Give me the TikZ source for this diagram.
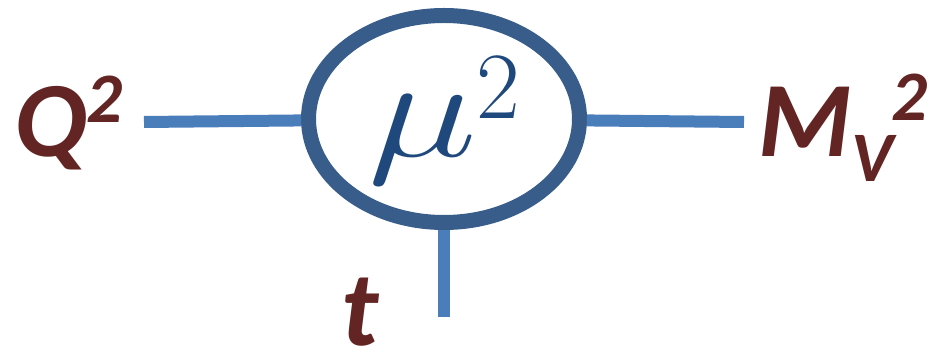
\RequirePackage{fix-cm}
\documentclass[tikz,border=0pt]{standalone}
\usepackage{fontspec}
\usepackage{tikz}
\usetikzlibrary{shapes.geometric}
\newfontfamily\labfont{Carlito}

\definecolor{labbrown}{HTML}{632523}
\definecolor{ringblue}{HTML}{385D8A}
\definecolor{wireblue}{HTML}{4A7EBB}
\definecolor{mublue}{HTML}{1F497D}

\begin{document}
\begin{tikzpicture}[x=1pt, y=-1pt,
    lab/.style={inner sep=0pt, anchor=base west, text=labbrown,
      font=\labfont\bfseries\itshape\fontsize{107}{110}\selectfont},
    wire/.style={draw=wireblue, line width=12pt},
    ring/.style={ellipse, draw=ringblue, line width=15pt, inner sep=0pt,
      minimum width=271pt, minimum height=207pt, text=mublue}]
    \useasboundingbox (0,0) rectangle (929,352);

    \node[ring] (mu) at (444,119)
      {\raisebox{-2pt}[\height][\depth]{\fontsize{142}{145}\selectfont
        \scalebox{1.3}[1]{$\mu$}\kern-1pt\raisebox{38pt}{\fontsize{95}{98}\selectfont$2$}}};

    \node[lab] (q) at (14,157) {Q\raisebox{34pt}{\fontsize{71}{72}\selectfont 2}};
    \node[lab] (m) at (758,157) {M\raisebox{-25pt}{\fontsize{71}{72}\selectfont V}\kern-2pt\raisebox{36pt}{\fontsize{71}{72}\selectfont 2}};
    \node[lab] (t) at (341,346) {t};

    \coordinate (qend) at (144,122);
    \coordinate (mend) at (744,122);
    \coordinate (tend) at (444,317);

    \draw[wire] (qend) -- (mu);
    \draw[wire] (mu) -- (mend);
    \draw[wire] (mu) -- (tend);
\end{tikzpicture}
\end{document}
